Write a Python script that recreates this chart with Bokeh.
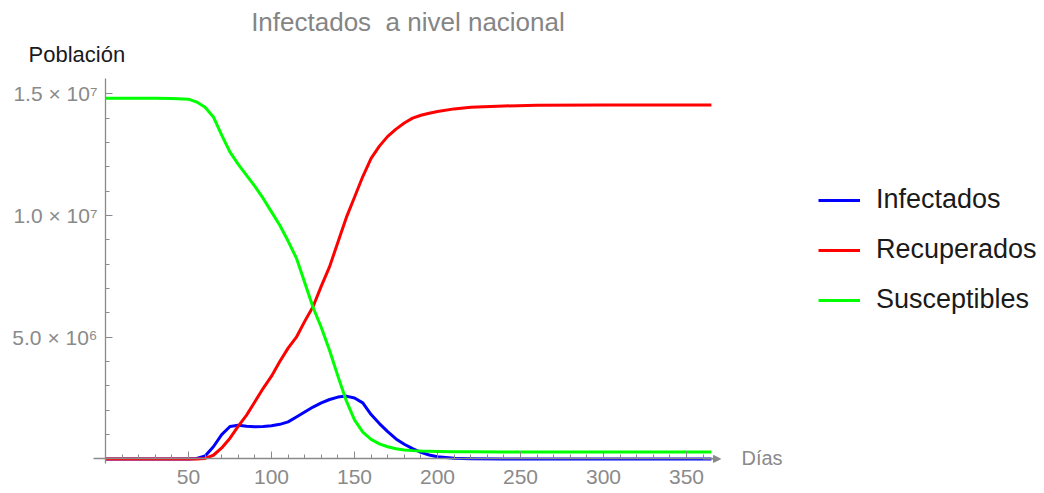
from bokeh.plotting import figure
from bokeh.models import (Range1d, FixedTicker, Label, Legend, LegendItem,
                          Arrow, NormalHead, ColumnDataSource)
from bokeh.embed import file_html
from bokeh.resources import INLINE

# ---- data (values in millions of people) ----
dias = [0, 10, 20, 30, 40, 50, 55, 60, 65, 70, 75, 80, 85, 90, 95, 100, 105, 110,
        115, 120, 125, 130, 135, 140, 145, 150, 155, 160, 165, 170, 175, 180, 185,
        190, 195, 200, 210, 220, 240, 260, 300, 365]
infectados = [0, 0, 0, 0, 0, 0, 0.02, 0.12, 0.5, 1.0, 1.33, 1.38, 1.34, 1.32, 1.33,
              1.36, 1.42, 1.52, 1.72, 1.93, 2.13, 2.3, 2.44, 2.54, 2.58, 2.5, 2.3,
              1.82, 1.45, 1.12, 0.82, 0.6, 0.42, 0.27, 0.16, 0.09, 0.03, 0.01, 0,
              0, 0, 0]
recuperados = [0, 0, 0, 0, 0, 0, 0, 0.02, 0.15, 0.45, 0.85, 1.35, 1.8, 2.35, 2.9,
               3.4, 4.0, 4.55, 5.0, 5.65, 6.25, 7.1, 7.9, 8.9, 9.9, 10.75, 11.6,
               12.35, 12.85, 13.25, 13.55, 13.8, 14.0, 14.12, 14.2, 14.27, 14.38,
               14.45, 14.5, 14.53, 14.54, 14.54]
susceptibles = [14.82, 14.82, 14.82, 14.82, 14.81, 14.78, 14.66, 14.45, 14.05, 13.3,
                12.6, 12.1, 11.65, 11.2, 10.7, 10.15, 9.6, 8.95, 8.25, 7.25, 6.23,
                5.4, 4.45, 3.4, 2.4, 1.6, 1.1, 0.8, 0.62, 0.5, 0.42, 0.37, 0.34,
                0.32, 0.31, 0.3, 0.29, 0.29, 0.28, 0.28, 0.28, 0.28]
series_names = ["Infectados", "Recuperados", "Susceptibles"]
series_colors = ["#0000ff", "#ff0000", "#00ff00"]

x_major = [50, 100, 150, 200, 250, 300, 350]
x_minor = list(range(10, 370, 10))
y_major = [5000000, 10000000, 15000000]
y_major_labels = ["5.0 × 10⁶", "1.0 × 10⁷", "1.5 × 10⁷"]
y_minor = [i * 1000000 for i in range(1, 16)]

title_text = "Infectados\u00a0 a nivel nacional"
y_label_text = "Población"
x_label_text = "Días"

FONT = "Liberation Sans"
GRAY = "#8a8a8a"
W, H = 1044, 493

src = ColumnDataSource(dict(
    d=dias,
    inf=[v * 1e6 for v in infectados],
    rec=[v * 1e6 for v in recuperados],
    sus=[v * 1e6 for v in susceptibles],
))

# frame fills the whole canvas; axes are pinned at the data origin
p = figure(width=W, height=H, output_backend="svg", toolbar_location=None,
           title=None,
           x_range=Range1d(-63.25, 565.66), y_range=Range1d(-1.4215e6, 18.833e6),
           min_border=0)
p.outline_line_color = None
p.xgrid.visible = False
p.ygrid.visible = False
p.background_fill_color = "white"
p.border_fill_color = "white"

for ax in (p.xaxis[0], p.yaxis[0]):
    ax.fixed_location = 0
    ax.axis_line_color = GRAY
    ax.axis_line_width = 1.3
    ax.major_tick_line_color = GRAY
    ax.minor_tick_line_color = GRAY
    ax.major_tick_in = 7
    ax.major_tick_out = 0
    ax.minor_tick_in = 4
    ax.minor_tick_out = 0
    ax.major_label_text_font = FONT
    ax.major_label_text_font_size = "21px"
    ax.major_label_text_color = GRAY

p.xaxis.ticker = FixedTicker(ticks=x_major, minor_ticks=x_minor)
p.xaxis.bounds = (-7, 366)
p.xaxis.major_label_standoff = 11
p.yaxis.ticker = FixedTicker(ticks=y_major, minor_ticks=y_minor)
p.yaxis.bounds = (-0.2e6, 15.63e6)
p.yaxis.major_label_overrides = {k: lab for k, lab in zip(y_major, y_major_labels)}
p.yaxis.major_label_standoff = 8

renderers = []
for col, color in zip(["inf", "rec", "sus"], series_colors):
    r = p.line("d", col, source=src, line_color=color, line_width=3,
               line_join="round")
    renderers.append(r)

legend = Legend(items=[LegendItem(label=n, renderers=[r])
                       for n, r in zip(series_names, renderers)],
                location=(818, 178), orientation="vertical",
                glyph_width=42, glyph_height=30, label_height=30,
                label_standoff=16, spacing=19, padding=10,
                label_text_font=FONT, label_text_font_size="27px",
                label_text_color="#1a1a1a",
                background_fill_alpha=0, border_line_color=None)
p.add_layout(legend, "center")

p.add_layout(Arrow(end=NormalHead(size=7, fill_color=GRAY, line_color=GRAY),
                   x_start=360, y_start=0, x_end=370.5, y_end=0,
                   line_color=GRAY, line_width=1.3))

p.add_layout(Label(x=182.2, y=17.97e6, text=title_text, text_align="center",
                   text_baseline="alphabetic", text_font=FONT,
                   text_font_size="26px", text_color="#858585"))
p.add_layout(Label(x=-46.39, y=16.62e6, text=y_label_text, text_align="left",
                   text_baseline="alphabetic", text_font=FONT,
                   text_font_size="22px", text_color="#1a1a1a"))
p.add_layout(Label(x=383.1, y=0.02e6, text=x_label_text, text_align="left",
                   text_baseline="alphabetic", text_font=FONT,
                   text_font_size="20px", text_color=GRAY))

open("out.html", "w").write(file_html(p, INLINE))
